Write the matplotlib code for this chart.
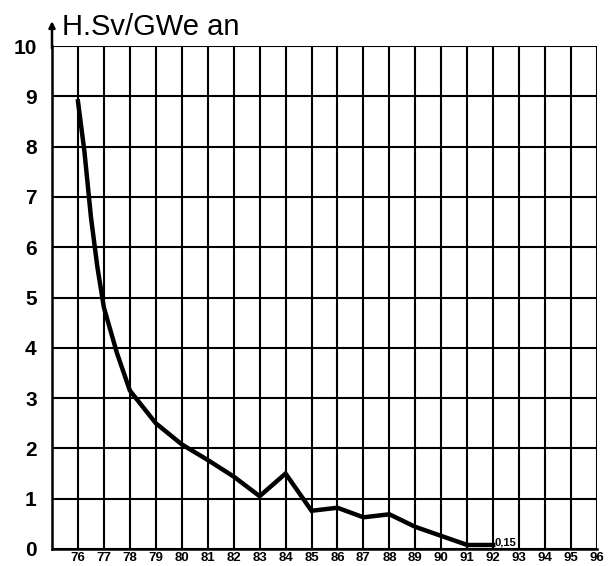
import matplotlib
matplotlib.use("Agg")
import matplotlib.pyplot as plt

plt.rcParams['font.family'] = ['Liberation Sans', 'DejaVu Sans']

years = [76, 76.25, 76.5, 76.75, 77, 77.5, 78, 79, 80, 81, 82, 83, 84, 85, 86, 87, 88, 89, 90, 91, 92]
dose = [8.9, 7.9, 6.6, 5.6, 4.8, 3.9, 3.15, 2.5, 2.08, 1.77, 1.44, 1.05, 1.5, 0.76, 0.82, 0.63, 0.69, 0.44, 0.26, 0.08, 0.08]
year_ticks = list(range(76, 97))
y_ticks = list(range(0, 11))
unit_label = "H.Sv/GWe an"
end_label = "0,15"

fig = plt.figure(figsize=(6.11, 5.66), dpi=100)
ax = fig.add_axes([52/611, 1-549/566, (597-52)/611, (549-46)/566])
ax.set_xlim(75, 96)
ax.set_ylim(0, 10)

ax.set_xticks(year_ticks)
ax.set_xticklabels([str(y) for y in year_ticks], fontsize=9.5, fontweight='bold')
ax.set_yticks(y_ticks)
ax.set_yticklabels([str(v) for v in y_ticks], fontsize=15, fontweight='bold')
ax.tick_params(axis='both', length=0)
ax.tick_params(axis='y', pad=11)
ax.tick_params(axis='x', pad=2.5)

ax.grid(True, color='black', linewidth=1.5)
ax.set_axisbelow(True)
for s in ['top', 'right']:
    ax.spines[s].set_visible(False)
for s in ['left', 'bottom']:
    ax.spines[s].set_linewidth(1.8)

ax.plot(years, dose, color='black', linewidth=3.2, solid_joinstyle='miter', zorder=3)

ax.text(92.05, 0.03, end_label, fontsize=8, fontweight='bold', ha='left', va='bottom')

# upward arrow on the y axis
ax.annotate('', xy=(75, 10.55), xytext=(75, 9.9), xycoords='data',
            arrowprops=dict(arrowstyle='-|>', color='black', lw=1.8, mutation_scale=9),
            annotation_clip=False)
ax.text(75.38, 10.1, unit_label, fontsize=21, ha='left', va='bottom')

fig.savefig("out.png", dpi=100, facecolor='white')
